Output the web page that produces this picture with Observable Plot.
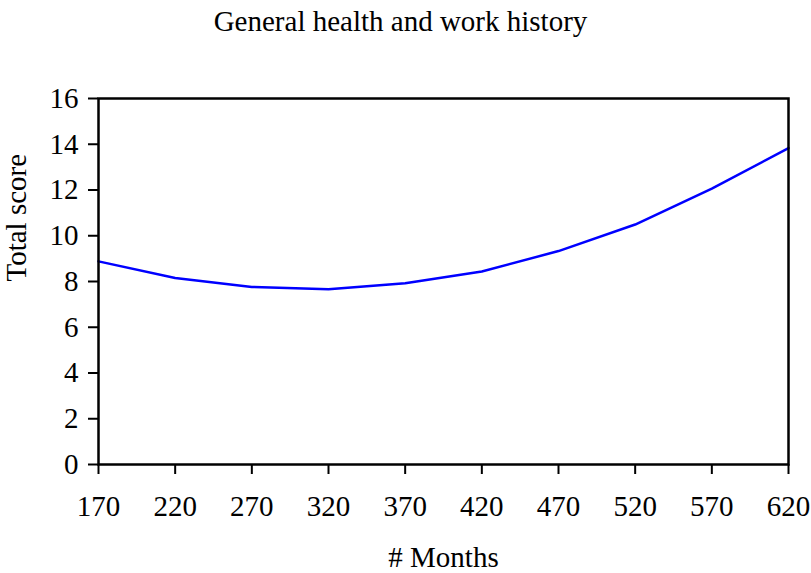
<!DOCTYPE html>
<html>
<head>
<meta charset="utf-8">
<script src="https://cdn.jsdelivr.net/npm/d3@7"></script>
<script src="https://cdn.jsdelivr.net/npm/@observablehq/plot@0.6"></script>
<style>
  html, body { margin: 0; padding: 0; background: #fff; }
  #chart svg g[aria-label^="x-axis"] line,
  #chart svg g[aria-label^="y-axis"] line,
  #chart svg g[aria-label^="x-axis"] path,
  #chart svg g[aria-label^="y-axis"] path { stroke-width: 2px; }
</style>
</head>
<body>
<div id="chart"></div>
<script>
const title = "General health and work history";
const xLabel = "# Months";
const yLabel = "Total score";
const months = [170, 220, 270, 320, 370, 420, 470, 520, 570, 620];
const scores = [8.88, 8.15, 7.76, 7.66, 7.92, 8.44, 9.33, 10.49, 12.06, 13.83];
const yTicks = [0, 2, 4, 6, 8, 10, 12, 14, 16];

const data = months.map((m, i) => ({month: m, score: scores[i]}));
const font = "Liberation Serif, Times New Roman, serif";

const chart = Plot.plot({
  width: 811,
  height: 573,
  marginLeft: 98,
  marginRight: 23,
  marginTop: 98,
  marginBottom: 109,
  style: {fontFamily: font, fontSize: "29px", background: "#fff", color: "#000", overflow: "visible"},
  x: {domain: [170, 620], ticks: months, tickFormat: d => String(d), tickSize: 10, tickPadding: 21, label: null},
  y: {domain: [0, 16], ticks: yTicks, tickFormat: d => String(d), tickSize: 10, tickPadding: 10, label: null},
  marks: [
    Plot.line(data, {x: "month", y: "score", stroke: "#0000ff", strokeWidth: 2.5}),
    Plot.frame({stroke: "#000", strokeWidth: 2.5}),
    Plot.text([title], {frameAnchor: "top", text: d => d, dx: -43, dy: -88, fontSize: 29, fontFamily: font, fill: "#000"}),
    Plot.text([xLabel], {frameAnchor: "bottom", text: d => d, dy: 102, fontSize: 29, fontFamily: font, fill: "#000"}),
    Plot.text([yLabel], {frameAnchor: "left", text: d => d, rotate: -90, dx: -82, fontSize: 29, fontFamily: font, fill: "#000"})
  ]
});
document.getElementById("chart").appendChild(chart);
</script>
</body>
</html>
